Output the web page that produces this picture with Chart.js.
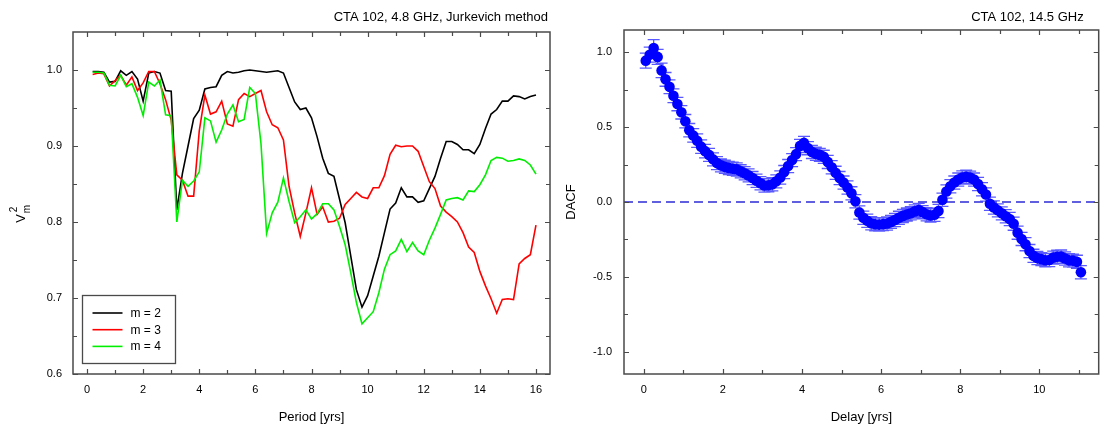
<!DOCTYPE html>
<html>
<head>
<meta charset="utf-8">
<script src="https://cdn.jsdelivr.net/npm/chart.js@4.4.1/dist/chart.umd.min.js"></script>
<style>
  html, body { margin:0; padding:0; background:#fff; }
  #wrap { position:relative; width:1104px; height:425px; overflow:hidden; }
  .cv { position:absolute; top:0; }
</style>
</head>
<body>
<div id="wrap">
  <canvas id="left" class="cv" width="552" height="425" style="left:0px"></canvas>
  <canvas id="right" class="cv" width="552" height="425" style="left:552px"></canvas>
</div>
<script>
// ---------------- DATA ----------------
const leftTitle = 'CTA 102, 4.8 GHz, Jurkevich method';
const rightTitle = 'CTA 102, 14.5 GHz';
const seriesLabels = ['m = 2', 'm = 3', 'm = 4'];

const periods = [0.2,0.4,0.6,0.8,1.0,1.2,1.4,1.6,1.8,2.0,2.2,2.4,2.6,2.8,3.0,3.2,3.4,3.6,3.8,4.0,
  4.2,4.4,4.6,4.8,5.0,5.2,5.4,5.6,5.8,6.0,6.2,6.4,6.6,6.8,7.0,7.2,7.4,7.6,7.8,8.0,
  8.2,8.4,8.6,8.8,9.0,9.2,9.4,9.6,9.8,10.0,10.2,10.4,10.6,10.8,11.0,11.2,11.4,11.6,11.8,12.0,
  12.2,12.4,12.6,12.8,13.0,13.2,13.4,13.6,13.8,14.0,14.2,14.4,14.6,14.8,15.0,15.2,15.4,15.6,15.8,16.0];

const vm2_m2 = [0.998,0.998,0.997,0.984,0.985,0.999,0.993,0.998,0.988,0.959,0.996,0.998,0.996,0.973,0.972,0.816,0.864,0.900,0.936,0.947,
  0.975,0.977,0.978,0.993,0.998,0.996,0.997,0.999,1.000,0.999,0.998,0.997,0.998,0.999,0.996,0.977,0.958,0.948,0.950,0.937,
  0.912,0.884,0.864,0.860,0.830,0.799,0.755,0.711,0.688,0.703,0.729,0.755,0.786,0.817,0.825,0.845,0.833,0.833,0.826,0.828,
  0.844,0.860,0.884,0.906,0.906,0.902,0.895,0.895,0.890,0.902,0.923,0.942,0.948,0.959,0.959,0.966,0.965,0.962,0.965,0.967];

const vm2_m3 = [0.994,0.996,0.995,0.979,0.986,0.993,0.980,0.991,0.973,0.983,0.998,0.998,0.982,0.961,0.934,0.862,0.855,0.834,0.834,0.920,
  0.967,0.942,0.945,0.959,0.929,0.926,0.961,0.969,0.965,0.969,0.973,0.945,0.928,0.924,0.908,0.847,0.812,0.781,0.812,0.845,
  0.810,0.820,0.800,0.801,0.805,0.823,0.831,0.839,0.833,0.831,0.845,0.845,0.861,0.889,0.901,0.899,0.900,0.900,0.893,0.873,
  0.853,0.844,0.821,0.813,0.807,0.800,0.786,0.767,0.760,0.735,0.716,0.699,0.680,0.698,0.699,0.698,0.745,0.752,0.757,0.796];

const vm2_m4 = [0.997,0.997,0.996,0.980,0.979,0.993,0.978,0.982,0.964,0.940,0.984,0.979,0.987,0.941,0.940,0.800,0.855,0.847,0.854,0.866,
  0.937,0.933,0.905,0.921,0.942,0.954,0.932,0.935,0.977,0.969,0.903,0.785,0.812,0.826,0.858,0.827,0.799,0.807,0.816,0.804,
  0.811,0.824,0.824,0.816,0.794,0.770,0.733,0.694,0.666,0.674,0.682,0.707,0.738,0.757,0.762,0.777,0.761,0.773,0.762,0.757,
  0.776,0.792,0.810,0.829,0.831,0.832,0.829,0.841,0.840,0.849,0.862,0.881,0.885,0.884,0.880,0.881,0.883,0.881,0.875,0.863];

const delays = [0.05,0.15,0.25,0.35,0.45,0.55,0.65,0.75,0.85,0.95,
  1.05,1.15,1.25,1.35,1.45,1.55,1.65,1.75,1.85,1.95,
  2.05,2.15,2.25,2.35,2.45,2.55,2.65,2.75,2.85,2.95,
  3.05,3.15,3.25,3.35,3.45,3.55,3.65,3.75,3.85,3.95,
  4.05,4.15,4.25,4.35,4.45,4.55,4.65,4.75,4.85,4.95,
  5.05,5.15,5.25,5.35,5.45,5.55,5.65,5.75,5.85,5.95,
  6.05,6.15,6.25,6.35,6.45,6.55,6.65,6.75,6.85,6.95,
  7.05,7.15,7.25,7.35,7.45,7.55,7.65,7.75,7.85,7.95,
  8.05,8.15,8.25,8.35,8.45,8.55,8.65,8.75,8.85,8.95,
  9.05,9.15,9.25,9.35,9.45,9.55,9.65,9.75,9.85,9.95,
  10.05,10.15,10.25,10.35,10.45,10.55,10.65,10.75,10.85,10.95,
  11.05];

const dacf = [0.945,0.985,1.03,0.97,0.88,0.82,0.77,0.71,0.655,0.60,
  0.54,0.48,0.445,0.41,0.37,0.34,0.315,0.285,0.26,0.245,
  0.235,0.228,0.222,0.218,0.205,0.192,0.178,0.16,0.142,0.125,
  0.11,0.112,0.118,0.138,0.164,0.2,0.24,0.28,0.32,0.375,
  0.395,0.36,0.335,0.322,0.315,0.302,0.268,0.232,0.195,0.16,
  0.13,0.097,0.058,0.005,-0.07,-0.105,-0.125,-0.142,-0.149,-0.151,
  -0.148,-0.144,-0.133,-0.12,-0.106,-0.093,-0.084,-0.075,-0.063,-0.053,
  -0.068,-0.082,-0.09,-0.085,-0.06,0.015,0.07,0.105,0.13,0.15,
  0.164,0.169,0.163,0.15,0.12,0.085,0.05,-0.012,-0.037,-0.056,
  -0.076,-0.095,-0.114,-0.145,-0.205,-0.247,-0.282,-0.328,-0.36,-0.375,
  -0.382,-0.389,-0.388,-0.372,-0.366,-0.365,-0.378,-0.39,-0.392,-0.40,
  -0.47];

const dacfErr = [0.05,0.05,0.055,0.05,0.048,0.046,0.046,0.046,0.045,0.045,
  0.045,0.045,0.045,0.045,0.045,0.045,0.044,0.044,0.044,0.044,
  0.044,0.044,0.044,0.044,0.044,0.044,0.044,0.044,0.044,0.044,
  0.044,0.044,0.044,0.044,0.044,0.044,0.044,0.044,0.044,0.044,
  0.044,0.044,0.044,0.044,0.044,0.044,0.044,0.044,0.044,0.044,
  0.044,0.044,0.044,0.044,0.044,0.044,0.044,0.044,0.044,0.044,
  0.044,0.044,0.044,0.044,0.044,0.044,0.044,0.044,0.044,0.044,
  0.044,0.044,0.044,0.044,0.044,0.044,0.044,0.044,0.044,0.044,
  0.044,0.044,0.044,0.044,0.044,0.044,0.044,0.044,0.044,0.044,
  0.044,0.044,0.044,0.044,0.044,0.044,0.044,0.044,0.044,0.044,
  0.044,0.044,0.044,0.044,0.044,0.044,0.044,0.044,0.044,0.044,
  0.044];

const leftXTicks = [0,1,2,3,4,5,6,7,8,9,10,11,12,13,14,15,16];
const leftYTicks = [0.6,0.65,0.7,0.75,0.8,0.85,0.9,0.95,1.0];
const rightXTicks = [0,1,2,3,4,5,6,7,8,9,10,11];
const rightYTicks = [-1.0,-0.75,-0.5,-0.25,0,0.25,0.5,0.75,1.0];

// ---------------- STYLE / HELPERS ----------------
const FAMILY = "'Liberation Sans', Arial, Helvetica, sans-serif";
Chart.defaults.font.family = FAMILY;
Chart.defaults.color = '#000';

function isMult(v, m) { const r = v / m; return Math.abs(r - Math.round(r)) < 1e-6; }

const frameTicks = {
  id: 'frameTicks',
  afterDraw(chart) {
    const { ctx, chartArea: a, scales: { x, y } } = chart;
    ctx.save();
    ctx.strokeStyle = '#4a4a4a';
    ctx.lineWidth = 1.5;
    ctx.strokeRect(a.left, a.top, a.right - a.left, a.bottom - a.top);
    ctx.lineWidth = 1.2;
    ctx.beginPath();
    x.ticks.forEach(t => {
      const px = Math.round(x.getPixelForValue(t.value)) + 0.5;
      const len = t.label ? 5 : 4;
      ctx.moveTo(px, a.bottom); ctx.lineTo(px, a.bottom - len);
      ctx.moveTo(px, a.top); ctx.lineTo(px, a.top + len);
    });
    y.ticks.forEach(t => {
      const py = Math.round(y.getPixelForValue(t.value)) + 0.5;
      const len = t.label ? 5 : 4;
      ctx.moveTo(a.left, py); ctx.lineTo(a.left + len, py);
      ctx.moveTo(a.right, py); ctx.lineTo(a.right - len, py);
    });
    ctx.stroke();
    ctx.restore();
  }
};

const titlePlugin = {
  id: 'topTitle',
  afterDraw(chart, args, opts) {
    const ctx = chart.ctx;
    ctx.save();
    ctx.font = '13px ' + FAMILY;
    ctx.fillStyle = '#000';
    ctx.textAlign = 'right';
    ctx.textBaseline = 'middle';
    ctx.fillText(opts.text, chart.chartArea.right - opts.inset, 17);
    ctx.restore();
  }
};

// ---------------- LEFT CHART ----------------
const leftColors = ['#000000', '#ff0000', '#00ee00'];
const leftSeries = [vm2_m2, vm2_m3, vm2_m4];

const legendPlugin = {
  id: 'boxLegend',
  afterDraw(chart) {
    const { ctx, chartArea: a } = chart;
    const bx = a.left + 9.5, by = a.bottom - 78.5, bw = 93, bh = 68;
    ctx.save();
    ctx.fillStyle = '#fff';
    ctx.fillRect(bx, by, bw, bh);
    ctx.strokeStyle = '#4a4a4a';
    ctx.lineWidth = 1.3;
    ctx.strokeRect(bx, by, bw, bh);
    ctx.font = '12px ' + FAMILY;
    ctx.textAlign = 'left';
    ctx.textBaseline = 'middle';
    seriesLabels.forEach((lab, i) => {
      const yy = by + 17.5 + i * 16.7;
      ctx.strokeStyle = leftColors[i];
      ctx.lineWidth = 1.6;
      ctx.beginPath();
      ctx.moveTo(bx + 10, yy); ctx.lineTo(bx + 40, yy);
      ctx.stroke();
      ctx.fillStyle = '#000';
      ctx.fillText(lab, bx + 48, yy + 0.5);
    });
    ctx.restore();
  }
};

const vm2Label = {
  id: 'vm2Label',
  afterDraw(chart) {
    const ctx = chart.ctx;
    ctx.save();
    ctx.translate(25, 214);
    ctx.rotate(-Math.PI / 2);
    ctx.fillStyle = '#000';
    ctx.textBaseline = 'alphabetic';
    ctx.textAlign = 'left';
    ctx.font = '13px ' + FAMILY;
    const vw = ctx.measureText('V').width;
    const total = vw + 9;
    ctx.fillText('V', -total / 2, 0);
    ctx.font = '10px ' + FAMILY;
    ctx.fillText('2', -total / 2 + vw + 2, -8);
    ctx.fillText('m', -total / 2 + vw + 1, 5);
    ctx.restore();
  }
};

new Chart(document.getElementById('left'), {
  type: 'line',
  data: {
    datasets: leftSeries.map((s, k) => ({
      label: seriesLabels[k],
      data: periods.map((p, i) => ({ x: p, y: s[i] })),
      borderColor: leftColors[k],
      backgroundColor: leftColors[k],
      borderWidth: 1.6,
      pointRadius: 0,
      tension: 0,
      fill: false,
      order: 3 - k
    }))
  },
  options: {
    responsive: false,
    animation: false,
    events: [],
    layout: { padding: { left: 0, right: 2, top: 32, bottom: 0 } },
    plugins: {
      legend: { display: false },
      tooltip: { enabled: false },
      title: { display: false },
      topTitle: { text: leftTitle, inset: 2 }
    },
    scales: {
      x: {
        type: 'linear', min: -0.5, max: 16.5,
        grid: { display: false, drawTicks: false },
        border: { display: false },
        afterBuildTicks(s) { s.ticks = leftXTicks.map(v => ({ value: v })); },
        ticks: {
          autoSkip: false, maxRotation: 0, padding: 9,
          font: { size: 11 }, color: '#000',
          callback: v => isMult(v, 2) ? String(Math.round(v)) : ''
        },
        title: { display: true, text: 'Period [yrs]', font: { size: 13 }, color: '#000', padding: { top: 0, bottom: 0 } },
        afterFit(s) { s.height = 51; }
      },
      y: {
        type: 'linear', min: 0.6, max: 1.05,
        grid: { display: false, drawTicks: false },
        border: { display: false },
        afterBuildTicks(s) { s.ticks = leftYTicks.map(v => ({ value: v })); },
        ticks: {
          autoSkip: false, padding: 11,
          font: { size: 11 }, color: '#000',
          callback: v => isMult(v, 0.1) ? v.toFixed(1) : ''
        },
        afterFit(s) { s.width = 73; }
      }
    }
  },
  plugins: [frameTicks, titlePlugin, legendPlugin, vm2Label]
});

// ---------------- RIGHT CHART ----------------
const errorBars = {
  id: 'errorBars',
  beforeDatasetsDraw(chart) {
    const { ctx, chartArea: a, scales: { x, y } } = chart;
    ctx.save();
    const y0 = y.getPixelForValue(0);
    ctx.strokeStyle = '#2b2bd6';
    ctx.lineWidth = 1.3;
    ctx.setLineDash([9, 5]);
    ctx.beginPath();
    ctx.moveTo(a.left, y0); ctx.lineTo(a.right, y0);
    ctx.stroke();
    ctx.setLineDash([]);
    ctx.strokeStyle = 'rgba(60,60,255,0.85)';
    ctx.lineWidth = 1.3;
    ctx.beginPath();
    delays.forEach((d, i) => {
      const px = x.getPixelForValue(d);
      const pt = y.getPixelForValue(dacf[i] + dacfErr[i]);
      const pb = y.getPixelForValue(dacf[i] - dacfErr[i]);
      ctx.moveTo(px, pt); ctx.lineTo(px, pb);
      ctx.moveTo(px - 6, pt); ctx.lineTo(px + 6, pt);
      ctx.moveTo(px - 6, pb); ctx.lineTo(px + 6, pb);
    });
    ctx.stroke();
    ctx.restore();
  }
};

new Chart(document.getElementById('right'), {
  type: 'scatter',
  data: {
    datasets: [{
      label: 'DACF',
      data: delays.map((d, i) => ({ x: d, y: dacf[i] })),
      pointRadius: 5.3,
      pointBackgroundColor: '#0000ff',
      pointBorderColor: '#0000ff',
      pointBorderWidth: 0,
      showLine: false
    }]
  },
  options: {
    responsive: false,
    animation: false,
    events: [],
    layout: { padding: { left: 0, right: 1, top: 30, bottom: 0 } },
    plugins: {
      legend: { display: false },
      tooltip: { enabled: false },
      title: { display: false },
      topTitle: { text: rightTitle, inset: 15 }
    },
    scales: {
      x: {
        type: 'linear', min: -0.5, max: 11.5,
        grid: { display: false, drawTicks: false },
        border: { display: false },
        afterBuildTicks(s) { s.ticks = rightXTicks.map(v => ({ value: v })); },
        ticks: {
          autoSkip: false, maxRotation: 0, padding: 9,
          font: { size: 11 }, color: '#000',
          callback: v => isMult(v, 2) ? String(Math.round(v)) : ''
        },
        title: { display: true, text: 'Delay [yrs]', font: { size: 13 }, color: '#000', padding: { top: 0, bottom: 0 } },
        afterFit(s) { s.height = 51; }
      },
      y: {
        type: 'linear', min: -1.15, max: 1.15,
        grid: { display: false, drawTicks: false },
        border: { display: false },
        afterBuildTicks(s) { s.ticks = rightYTicks.map(v => ({ value: v })); },
        ticks: {
          autoSkip: false, padding: 12,
          font: { size: 11 }, color: '#000',
          callback: v => isMult(v, 0.5) ? v.toFixed(1) : ''
        },
        title: { display: true, text: 'DACF', font: { size: 13 }, color: '#000', padding: { top: 12, bottom: 0 } },
        afterFit(s) { s.width = 72; }
      }
    }
  },
  plugins: [errorBars, frameTicks, titlePlugin]
});
</script>
</body>
</html>
